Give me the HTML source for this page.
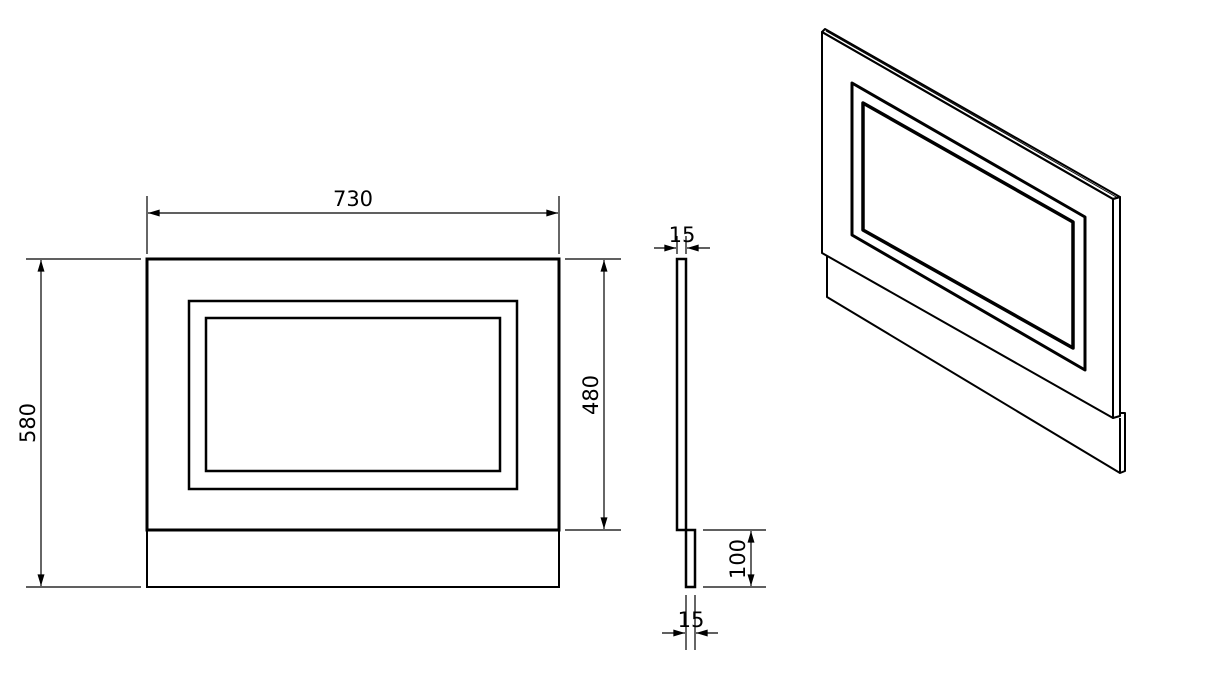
<!DOCTYPE html>
<html><head><style>
html,body{margin:0;padding:0;background:#fff;width:1206px;height:700px;overflow:hidden}
text{font-family:"DejaVu Sans","Liberation Sans",sans-serif;font-size:21px;fill:#000}
</style></head><body>
<svg width="1206" height="700" viewBox="0 0 1206 700" xmlns="http://www.w3.org/2000/svg">
<defs>
<marker id="a" viewBox="0 0 10 6" refX="10" refY="3" markerWidth="15" markerHeight="7" markerUnits="userSpaceOnUse" orient="auto-start-reverse"><path d="M0,0L10,3L0,6z" fill="#000"/></marker>
</defs>
<g fill="none" stroke="#000">
<rect x="147" y="259" width="412" height="271" stroke-width="3"/>
<rect x="147" y="530" width="412" height="57" stroke-width="2"/>
<rect x="189" y="301" width="328" height="188" stroke-width="2.5"/>
<rect x="206" y="318" width="294" height="153" stroke-width="2.5"/>
<line x1="147" y1="196" x2="147" y2="254" stroke-width="1.2"/>
<line x1="559" y1="196" x2="559" y2="254" stroke-width="1.2"/>
<line x1="148" y1="213" x2="558" y2="213" stroke-width="1.2" marker-start="url(#a)" marker-end="url(#a)"/>
<line x1="26" y1="259" x2="141" y2="259" stroke-width="1.2"/>
<line x1="26" y1="587" x2="141" y2="587" stroke-width="1.2"/>
<line x1="41" y1="260" x2="41" y2="586" stroke-width="1.2" marker-start="url(#a)" marker-end="url(#a)"/>
<line x1="565" y1="259" x2="621" y2="259" stroke-width="1.2"/>
<line x1="565" y1="530" x2="621" y2="530" stroke-width="1.2"/>
<line x1="604" y1="260" x2="604" y2="529" stroke-width="1.2" marker-start="url(#a)" marker-end="url(#a)"/>
<rect x="677" y="259" width="9" height="271" stroke-width="2.5"/>
<rect x="686" y="530" width="9" height="57" stroke-width="2.5"/>
<line x1="677" y1="236" x2="677" y2="254" stroke-width="1.2"/>
<line x1="686" y1="236" x2="686" y2="254" stroke-width="1.2"/>
<line x1="654" y1="248" x2="676" y2="248" stroke-width="1.2" marker-end="url(#a)"/>
<line x1="710" y1="248" x2="687" y2="248" stroke-width="1.2" marker-end="url(#a)"/>
<line x1="703" y1="530" x2="766" y2="530" stroke-width="1.2"/>
<line x1="703" y1="587" x2="766" y2="587" stroke-width="1.2"/>
<line x1="751" y1="531" x2="751" y2="586" stroke-width="1.2" marker-start="url(#a)" marker-end="url(#a)"/>
<line x1="686" y1="595" x2="686" y2="650" stroke-width="1.2"/>
<line x1="695" y1="595" x2="695" y2="650" stroke-width="1.2"/>
<line x1="662" y1="633" x2="685" y2="633" stroke-width="1.2" marker-end="url(#a)"/>
<line x1="718" y1="633" x2="696" y2="633" stroke-width="1.2" marker-end="url(#a)"/>
<g stroke-width="2" stroke-linejoin="round">
<polygon points="822,32 1113,199 1113,418 822,253"/>
<polygon points="822,32 825,29 1120,197 1113,199"/>
<polygon points="1113,199 1120,197 1120,416 1113,418"/>
<polyline points="827,256 827,297 1120,473 1125,471 1125,413 1120,413"/>
<line x1="1120" y1="418" x2="1120" y2="473"/>
<polygon points="852,83 1085,217 1085,370 852,235" stroke-width="3"/>
<polygon points="863,103 1073,222 1073,348 863,230" stroke-width="3.5"/>
</g>
<line x1="826" y1="31" x2="1118" y2="198" stroke-width="1"/>
</g>
<text x="353" y="206" text-anchor="middle">730</text>
<text transform="translate(35,423) rotate(-90)" text-anchor="middle">580</text>
<text transform="translate(598,395) rotate(-90)" text-anchor="middle">480</text>
<text transform="translate(745,559) rotate(-90)" text-anchor="middle">100</text>
<text x="682" y="242" text-anchor="middle">15</text>
<text x="691" y="627" text-anchor="middle">15</text>
</svg>
</body></html>
